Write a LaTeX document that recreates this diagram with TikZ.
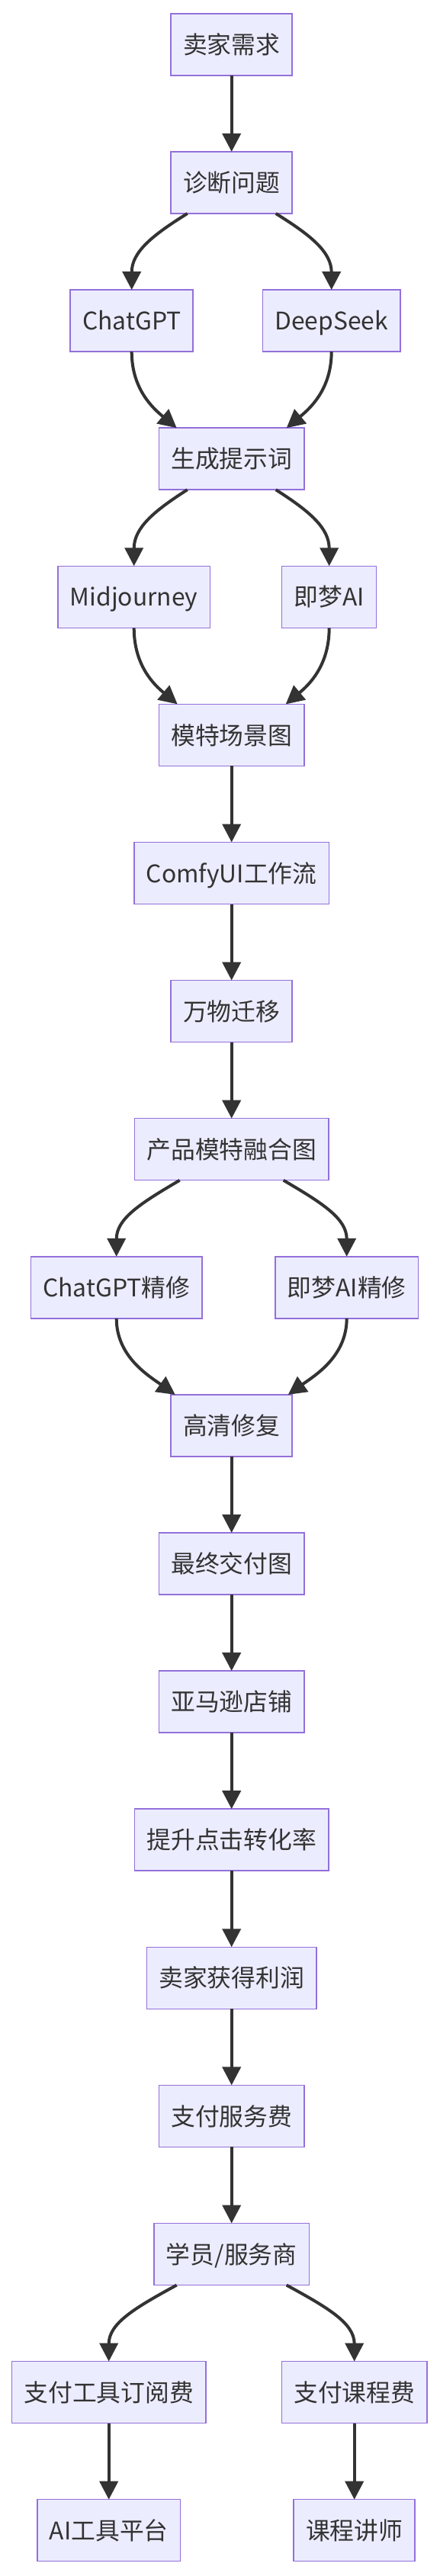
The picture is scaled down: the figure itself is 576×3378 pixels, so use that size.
\documentclass[tikz,border=0pt]{standalone}
\usepackage{fontspec}
\setmainfont{Noto Sans CJK SC}
\usepackage{tikz}
\usetikzlibrary{arrows.meta, positioning}
\definecolor{boxfill}{HTML}{ECECFF}
\definecolor{boxline}{HTML}{9370DB}
\definecolor{ink}{HTML}{333333}

\begin{document}
\begin{tikzpicture}[
  x=1pt, y=1pt,
  node distance=100.1pt,
  every node/.style={draw=boxline, fill=boxfill, text=ink, line width=1.5pt, minimum height=81pt,
    inner xsep=15.9pt, inner ysep=0pt, outer sep=0pt, text height=28pt, text depth=3.8pt,
    font=\fontsize{31.8pt}{38pt}\selectfont},
  arrow/.style={draw=ink, line width=4pt, -{Triangle[length=24pt, width=24pt]}}
]
\useasboundingbox (0,0) rectangle (576,-3378);

% Nodes
\node (seller) at (303.7,-58.4) {卖家需求};
\node (diagnose) [below=of seller] {诊断问题};

\node (chatgpt) [below=of diagnose, xshift=-131pt] {ChatGPT};
\node (deepseek) [below=of diagnose, xshift=131pt] {DeepSeek};
\node (prompt) [below=of chatgpt, xshift=131pt] {生成提示词};

\node (mj) [below=of prompt, xshift=-128pt] {Midjourney};
\node (jimeng) [below=of prompt, xshift=128pt] {即梦AI};
\node (scene) [below=of mj, xshift=128pt] {模特场景图};

\node (comfy) [below=of scene] {ComfyUI工作流};
\node (transfer) [below=of comfy] {万物迁移};
\node (fusion) [below=of transfer] {产品模特融合图};

\node (gptfix) [below=of fusion, xshift=-151pt] {ChatGPT精修};
\node (jmfix) [below=of fusion, xshift=151pt] {即梦AI精修};
\node (hdfix) [below=of gptfix, xshift=151pt] {高清修复};

\node (final) [below=of hdfix] {最终交付图};
\node (amazon) [below=of final] {亚马逊店铺};
\node (ctr) [below=of amazon] {提升点击转化率};
\node (profit) [below=of ctr] {卖家获得利润};
\node (fee) [below=of profit] {支付服务费};
\node (provider) [below=of fee] {学员/服务商};

\node (toolfee) [below=of provider, xshift=-161pt] {支付工具订阅费};
\node (coursefee) [below=of provider, xshift=161pt] {支付课程费};
\node (aiplatform) [below=of toolfee] {AI工具平台};
\node (lecturer) [below=of coursefee] {课程讲师};

% Arrows
\draw [arrow] (seller) -- (diagnose);
\draw [arrow] ([xshift=-58pt]diagnose.south) .. controls +(-45,-28) and +(0,50) .. (chatgpt.north);
\draw [arrow] ([xshift=58pt]diagnose.south) .. controls +(45,-28) and +(0,50) .. (deepseek.north);
\draw [arrow] (chatgpt.south) .. controls +(0,-50) and +(-30,25) .. ([xshift=-72pt]prompt.north);
\draw [arrow] (deepseek.south) .. controls +(0,-50) and +(30,25) .. ([xshift=72pt]prompt.north);

\draw [arrow] ([xshift=-58pt]prompt.south) .. controls +(-44,-28) and +(0,50) .. (mj.north);
\draw [arrow] ([xshift=58pt]prompt.south) .. controls +(44,-28) and +(0,50) .. (jimeng.north);
\draw [arrow] (mj.south) .. controls +(0,-50) and +(-30,25) .. ([xshift=-71pt]scene.north);
\draw [arrow] (jimeng.south) .. controls +(0,-50) and +(30,25) .. ([xshift=71pt]scene.north);

\draw [arrow] (scene) -- (comfy);
\draw [arrow] (comfy) -- (transfer);
\draw [arrow] (transfer) -- (fusion);

\draw [arrow] ([xshift=-68pt]fusion.south) .. controls +(-51,-30) and +(0,50) .. (gptfix.north);
\draw [arrow] ([xshift=68pt]fusion.south) .. controls +(51,-30) and +(0,50) .. (jmfix.north);
\draw [arrow] (gptfix.south) .. controls +(0,-50) and +(-35,25) .. ([xshift=-74pt]hdfix.north);
\draw [arrow] (jmfix.south) .. controls +(0,-50) and +(35,25) .. ([xshift=74pt]hdfix.north);

\draw [arrow] (hdfix) -- (final);
\draw [arrow] (final) -- (amazon);
\draw [arrow] (amazon) -- (ctr);
\draw [arrow] (ctr) -- (profit);
\draw [arrow] (profit) -- (fee);
\draw [arrow] (fee) -- (provider);

\draw [arrow] ([xshift=-72pt]provider.south) .. controls +(-55,-30) and +(0,50) .. (toolfee.north);
\draw [arrow] ([xshift=72pt]provider.south) .. controls +(55,-30) and +(0,50) .. (coursefee.north);
\draw [arrow] (toolfee) -- (aiplatform);
\draw [arrow] (coursefee) -- (lecturer);

\end{tikzpicture}
\end{document}
